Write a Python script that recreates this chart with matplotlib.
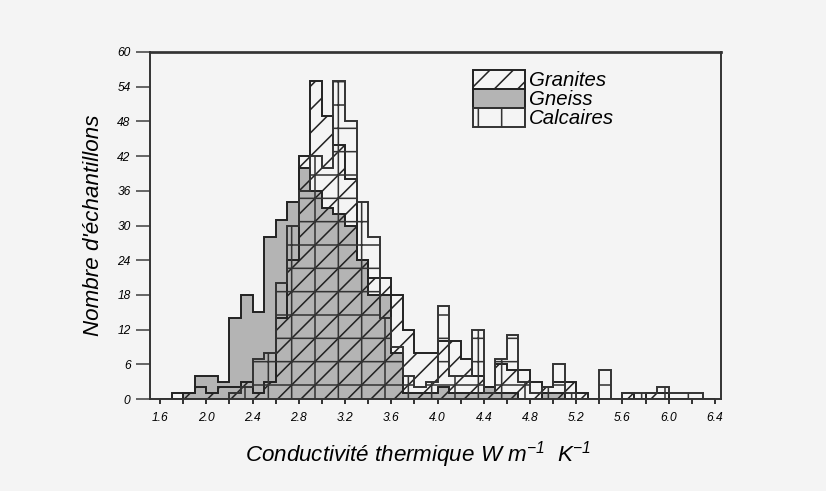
import numpy as np
import matplotlib
matplotlib.use("Agg")
import matplotlib.pyplot as plt
import matplotlib.patches as mpatches

# bins of 0.1 W/m/K from 1.6 to 6.4
bin_start = 1.6
bin_width = 0.1
gneiss = [0, 0, 1, 4, 4, 3, 14, 18, 15, 28, 31, 34, 40, 36, 33, 32,
          30, 24, 18, 18, 8, 1, 1, 1, 2, 1, 1, 1, 2, 1, 1, 0,
          0, 1, 1, 0, 0, 0, 0, 0, 0, 0, 0, 0, 0, 0, 0, 0]
granites = [0, 1, 1, 2, 1, 2, 2, 3, 1, 3, 14, 24, 42, 55, 49, 44,
            38, 24, 21, 21, 18, 12, 8, 8, 10, 10, 7, 4, 2, 6, 5, 5,
            3, 2, 3, 3, 1, 0, 0, 0, 1, 0, 1, 1, 0, 0, 0, 0]
calcaires = [0, 0, 0, 0, 0, 0, 1, 2, 7, 8, 20, 30, 36, 42, 40, 55,
             48, 34, 28, 14, 9, 4, 2, 3, 16, 4, 4, 12, 1, 7, 11, 3,
             1, 2, 6, 1, 0, 0, 5, 0, 1, 1, 1, 2, 1, 1, 1, 0]
labels = ["Granites", "Gneiss", "Calcaires"]
x_ticks = [1.6, 2.0, 2.4, 2.8, 3.2, 3.6, 4.0, 4.4, 4.8, 5.2, 5.6, 6.0, 6.4]
y_ticks = [0, 6, 12, 18, 24, 30, 36, 42, 48, 54, 60]

edges = bin_start + bin_width * np.arange(len(gneiss) + 1)

plt.rcParams["font.family"] = ["Liberation Sans", "DejaVu Sans"]
plt.rcParams["font.style"] = "italic"
plt.rcParams["mathtext.fontset"] = "custom"
plt.rcParams["mathtext.it"] = "Liberation Sans:italic"
plt.rcParams["mathtext.rm"] = "Liberation Sans"
plt.rcParams["mathtext.default"] = "it"
plt.rcParams["hatch.linewidth"] = 0.8

dpi = 140
bg = "#f4f4f4"
W, H = 826, 491
fig = plt.figure(figsize=(W / dpi, H / dpi), dpi=dpi, facecolor=bg)
ax_l, ax_r, ax_t, ax_b = 150, 721, 52, 399
ax = fig.add_axes([ax_l / W, (H - ax_b) / H, (ax_r - ax_l) / W, (ax_b - ax_t) / H],
                  facecolor=bg)

gray = "#b4b4b4"
line = "#222222"
styles = [
    dict(facecolor="none", hatch="//"),   # Granites
    dict(facecolor=gray, hatch=None),     # Gneiss
    dict(facecolor="none", hatch="+"),    # Calcaires
]
ax.stairs(gneiss, edges, fill=True, edgecolor=line, linewidth=1.0, zorder=1,
          **styles[1])
ax.stairs(granites, edges, fill=True, edgecolor=line, linewidth=1.0, zorder=2,
          **styles[0])
ax.stairs(calcaires, edges, fill=True, edgecolor="#333333", linewidth=1.0, zorder=3,
          **styles[2])

ax.set_xlim(1.513, 6.452)
ax.set_ylim(0, 60)
ax.set_xticks(x_ticks)
ax.set_xticklabels([f"{v:.1f}" for v in x_ticks])
ax.set_xticks(np.arange(1.6, 6.41, 0.2), minor=True)
ax.set_yticks(y_ticks)
ax.tick_params(axis="y", length=7, width=0.9, pad=3, labelsize=6.2, color="#555555")
ax.tick_params(axis="x", which="both", length=2.5, width=0.8, pad=4, labelsize=6.2)
for s in ax.spines.values():
    s.set_linewidth(1.0)
    s.set_color("#333333")
ax.spines["top"].set_linewidth(1.4)

ax.set_xlabel(r"Conductivité thermique W m$^{-1}$  K$^{-1}$", fontsize=11.5)
ax.xaxis.set_label_coords((418 - ax_l) / (ax_r - ax_l), -0.115)
ax.set_ylabel("Nombre d'échantillons", fontsize=11.5)
ax.yaxis.set_label_coords((104 - ax_l) / (ax_r - ax_l), 0.5)

# legend drawn as three stacked boxes, like the original
px_to_ax = lambda px, py: ((px - ax_l) / (ax_r - ax_l), (ax_b - py) / (ax_b - ax_t))
row_h = 19
for k, (lab, st) in enumerate(zip(labels, styles)):
    top = 70 + k * row_h
    x0, y0 = px_to_ax(473, top + row_h)
    x1, y1 = px_to_ax(525, top)
    ec = "#333333" if k == 2 else line
    ax.add_patch(mpatches.Rectangle((x0, y0), x1 - x0, y1 - y0, transform=ax.transAxes,
                                    edgecolor=ec, linewidth=1.0, zorder=5, **st))
    tx, ty = px_to_ax(529, top + row_h / 2 + 1)
    ax.text(tx, ty, lab, transform=ax.transAxes, ha="left", va="center",
            fontsize=10.5, zorder=5)

fig.savefig("out.png", dpi=dpi, facecolor=bg)
